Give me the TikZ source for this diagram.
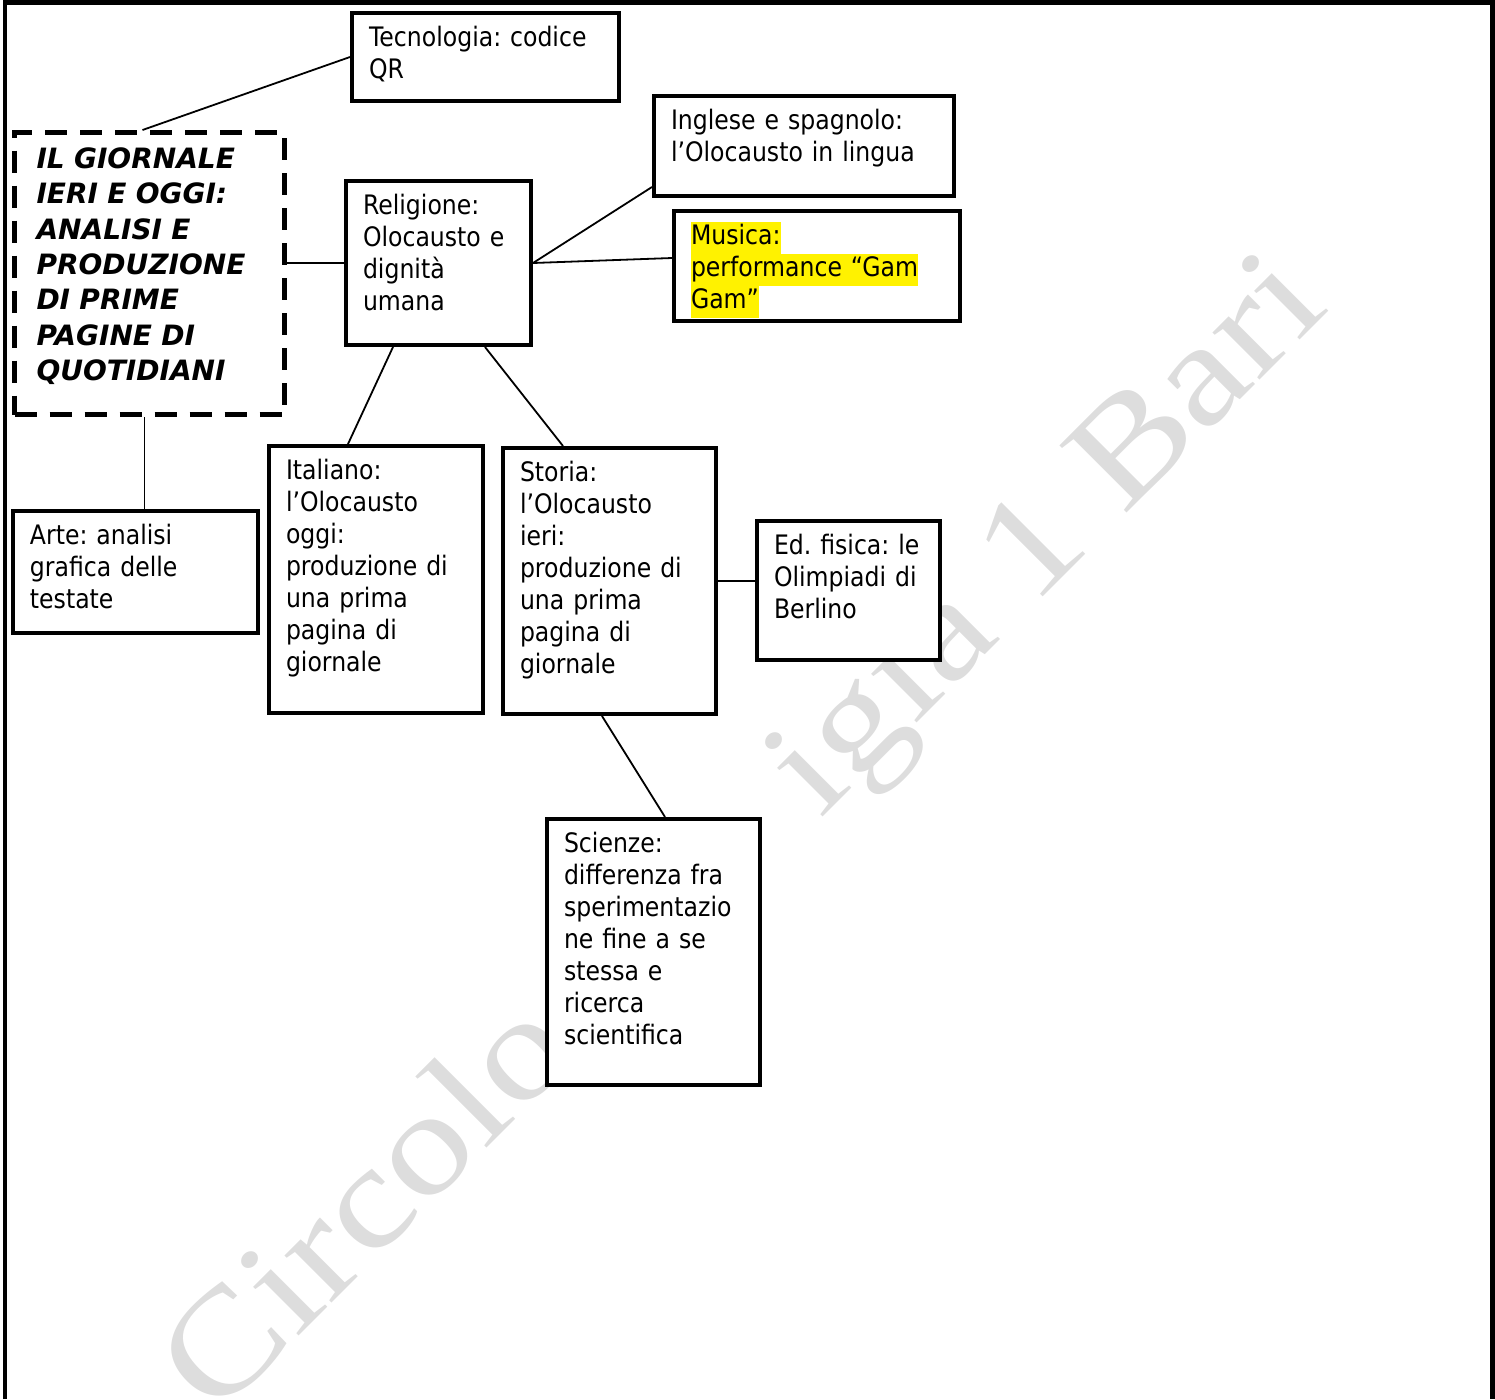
\documentclass[tikz,border=0pt]{standalone}
\usepackage{fontspec}
\setmainfont{DejaVu Sans}[FakeStretch=0.88]
\newfontfamily\titlefont{DejaVu Sans}
\newfontfamily\wmfont{Liberation Serif}[FakeStretch=1.18]
\definecolor{wmgray}{RGB}{221,221,221}
\newcommand{\hlt}[1]{{\setlength{\fboxsep}{0pt}\colorbox{yellow}{\strut #1}}}
\frenchspacing

\begin{document}
\begin{tikzpicture}[x=0.5pt,y=-0.5pt,line width=0.9pt,
  card/.style 2 args={draw,line width=2pt,fill=white,anchor=north west,align=left,inner xsep=8.5pt,inner ysep=0pt,
    text height=16.5pt,text width=#1,text depth=#2,font=\fontsize{13.4}{16}\selectfont},
  wm/.style={text=wmgray,rotate=45,inner sep=0pt,font=\wmfont\fontsize{72.5}{80}\selectfont}]
  \useasboundingbox (0,0) rectangle (1495,1399);
  \draw[line width=2.2pt] (5,1399) -- (5,2.5) -- (1492.5,2.5) -- (1492.5,1399);
  \node[wm,anchor=base west] (wmleft) at (215,1420) {Circolo};
  \node[wm,anchor=base east] (wmright) at (1332,308) {igia 1 Bari};
  \node[card={113pt}{123pt},line width=2.5pt,dash pattern=on 11pt off 6.5pt,inner xsep=11pt,text height=18pt,
    font=\titlefont\bfseries\itshape\fontsize{14}{17.65}\selectfont] (title) at (12,130)
    {IL GIORNALE\\IERI E OGGI:\\ANALISI E\\PRODUZIONE\\DI PRIME\\PAGINE DI\\QUOTIDIANI};
  \node[card={116.5pt}{27.5pt}] (tec) at (350,11) {Tecnologia: codice\\QR};
  \node[card={75.5pt}{65.5pt}] (rel) at (344,179) {Religione:\\Olocausto e\\dignità\\umana};
  \node[card={133pt}{33.5pt}] (ing) at (652,94) {Inglese e spagnolo:\\l’Olocausto in lingua};
  \node[card={126pt}{38.5pt}] (mus) at (672,209) {\hlt{Musica:}\\\hlt{performance “Gam}\\\hlt{Gam”}};
  \node[card={90pt}{117pt}] (ita) at (267,444) {Italiano:\\l’Olocausto\\oggi:\\produzione di\\una prima\\pagina di\\giornale};
  \node[card={89.5pt}{116.5pt}] (sto) at (501,446) {Storia:\\l’Olocausto\\ieri:\\produzione di\\una prima\\pagina di\\giornale};
  \node[card={74.5pt}{53pt}] (edf) at (755,519) {Ed. fisica: le\\Olimpiadi di\\Berlino};
  \node[card={105.5pt}{44.5pt}] (arte) at (11,509) {Arte: analisi\\grafica delle\\testate};
  \node[card={89.5pt}{116.5pt}] (sci) at (545,817) {Scienze:\\differenza fra\\sperimentazio\\ne fine a se\\stessa e\\ricerca\\scientifica};
  \path (tec.west) edge ([xshift=-3.5pt]title.north);
  \path (rel.west) edge (rel.west -| title.east);
  \path (rel.east) edge ([yshift=5.5pt]ing.south west);
  \path (rel.east) edge ([yshift=4pt]mus.west);
  \path ([xshift=24.5pt]rel.south west) edge ([xshift=40.5pt]ita.north west);
  \path ([xshift=-24pt]rel.south east) edge ([xshift=31pt]sto.north west);
  \path ([xshift=-2.5pt]title.south) edge ([xshift=-2.5pt]title.south |- arte.north);
  \path (sto.east) edge (sto.east -| edf.west);
  \path ([xshift=-3.75pt]sto.south) edge ([xshift=5.75pt]sci.north);
\end{tikzpicture}
\end{document}
